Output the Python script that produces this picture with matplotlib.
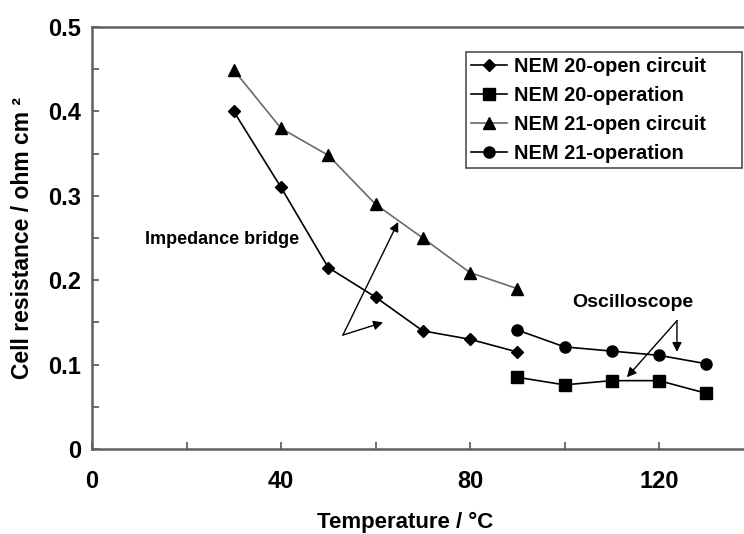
import matplotlib
matplotlib.use("Agg")
from matplotlib import pyplot as plt
from matplotlib.ticker import MultipleLocator

plt.rcParams['font.family'] = ['Liberation Sans', 'DejaVu Sans']
plt.rcParams['font.weight'] = 'bold'

# temperatures (degC) and cell resistance (ohm cm2)
t_open = [30, 40, 50, 60, 70, 80, 90]
t_oper = [90, 100, 110, 120, 130]
nem20_open = [0.40, 0.31, 0.215, 0.18, 0.14, 0.13, 0.115]
nem20_oper = [0.085, 0.076, 0.081, 0.081, 0.066]
nem21_open = [0.449, 0.38, 0.348, 0.29, 0.25, 0.209, 0.19]
nem21_oper = [0.141, 0.121, 0.116, 0.111, 0.101]

fig = plt.figure(figsize=(7.44, 5.34), dpi=100)
ax = fig.add_axes([92 / 744, 1 - 449 / 534, 661.5 / 744, 422 / 534])

ax.plot(t_open, nem20_open, color='black', lw=1.2, marker='D', ms=6.5,
        label="NEM 20-open circuit")
ax.plot(t_oper, nem20_oper, color='black', lw=1.2, marker='s', ms=8,
        label="NEM 20-operation")
ax.plot(t_open, nem21_open, color='#6a6a6a', lw=1.2, marker='^', ms=9,
        mfc='black', mec='black', label="NEM 21-open circuit")
ax.plot(t_oper, nem21_oper, color='black', lw=1.2, marker='o', ms=8,
        label="NEM 21-operation")

ax.set_xlim(0, 140)
ax.set_ylim(0, 0.5)
ax.xaxis.set_major_locator(MultipleLocator(40))
ax.xaxis.set_minor_locator(MultipleLocator(20))
ax.yaxis.set_minor_locator(MultipleLocator(0.05))
ax.set_yticks([0, 0.1, 0.2, 0.3, 0.4, 0.5])
ax.set_yticklabels(["0", "0.1", "0.2", "0.3", "0.4", "0.5"])
ax.tick_params(which='both', direction='in', length=5, width=1.2,
               color='#555555', labelsize=17)
ax.tick_params(axis='x', pad=15)
ax.tick_params(axis='y', pad=8)

for side in ['left', 'bottom', 'top']:
    ax.spines[side].set_color('#606060')
    ax.spines[side].set_linewidth(1.8)
ax.spines['right'].set_visible(False)

ax.set_xlabel("Temperature / °C", fontsize=16, fontweight='bold')
ax.xaxis.set_label_coords(0.473, -0.148)
ax.set_ylabel("Cell resistance / ohm cm ²", fontsize=16.5, fontweight='bold',
              labelpad=10)

arrow = dict(arrowstyle='-|>', color='black', lw=1.0, mutation_scale=14,
             shrinkA=0, shrinkB=0)
ax.text(27.5, 0.248, "Impedance bridge", fontsize=13, fontweight='bold',
        ha='center', va='center')
ax.annotate("", xy=(64.8, 0.269), xytext=(53.1, 0.135), arrowprops=arrow)
ax.annotate("", xy=(61.6, 0.150), xytext=(53.1, 0.135), arrowprops=arrow)

ax.text(114.5, 0.174, "Oscilloscope", fontsize=14, fontweight='bold',
        ha='center', va='center')
ax.annotate("", xy=(113.2, 0.085), xytext=(123.8, 0.152), arrowprops=arrow)
ax.annotate("", xy=(123.8, 0.115), xytext=(123.8, 0.152), arrowprops=arrow)

leg = fig.legend(loc='upper left',
                 bbox_to_anchor=(466 / 744, 1 - 167 / 534, 276 / 744, 115 / 534),
                 mode='expand',
                 prop={'size': 14.4, 'weight': 'bold'}, fancybox=False,
                 handlelength=1.8, handletextpad=0.35, borderpad=0.25,
                 labelspacing=0.5, borderaxespad=0, framealpha=1)
leg.get_frame().set_edgecolor('#505050')
leg.get_frame().set_linewidth(1.2)

fig.savefig("out.png", dpi=100)
